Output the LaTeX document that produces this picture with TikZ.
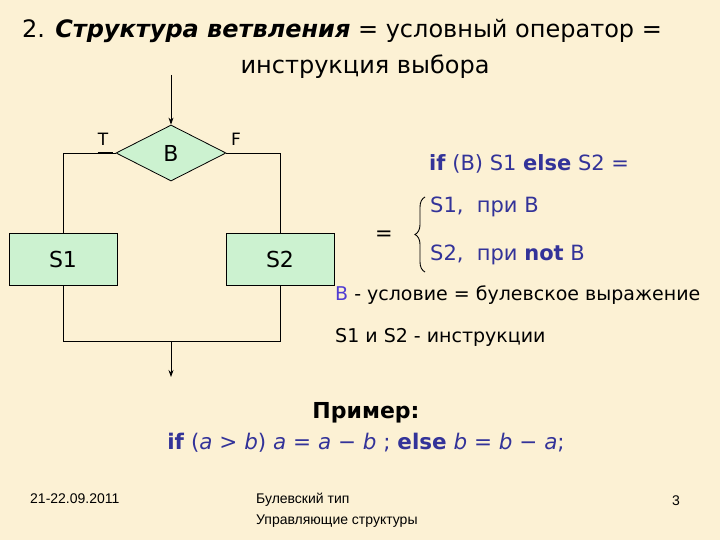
\documentclass[tikz,border=0pt]{standalone}
\usepackage{fontspec}
\setmainfont{DejaVu Sans}
\newfontfamily\footfont{Liberation Sans}
\usetikzlibrary{shapes.geometric,arrows.meta,decorations.pathreplacing}
\definecolor{bg}{RGB}{252,241,212}
\definecolor{boxg}{RGB}{204,242,208}
\definecolor{dblue}{RGB}{51,51,153}
\definecolor{vblue}{RGB}{80,60,210}
\begin{document}
\begin{tikzpicture}[x=1pt,y=-1pt,
  flow/.style={draw,line width=0.8pt},
  arr/.style={flow,-{Stealth[length=7pt,width=5pt]}},
  box/.style={draw,line width=0.8pt,fill=boxg,minimum width=108pt,minimum height=52pt,inner sep=0pt,font=\fontsize{22}{24}\selectfont},
  dec/.style={draw,line width=0.8pt,fill=boxg,diamond,minimum width=110pt,minimum height=56pt,inner sep=0pt,font=\fontsize{22}{24}\selectfont},
  lbl/.style={font=\fontsize{17}{18}\selectfont},
  ttl/.style={font=\fontsize{24}{26}\selectfont},
  body/.style={font=\fontsize{19}{22}\selectfont,anchor=mid west,inner sep=0pt},
  bodyb/.style={font=\fontsize{21}{24}\selectfont,anchor=mid west,inner sep=0pt,text=dblue},
  foot/.style={font=\footfont\fontsize{14}{16}\selectfont,anchor=mid west,inner sep=0pt}]
\fill[bg] (0,0) rectangle (720,540);
\useasboundingbox (0,0) rectangle (720,540);
% title
\node[ttl,anchor=mid west,inner sep=0pt] (t1) at (22,35) {2. \textbf{\textit{Структура ветвления}} = условный оператор =};
\node[ttl,inner sep=0pt] (t2) at (365,67) {инструкция выбора};
% flowchart
\coordinate (in) at (171,75);
\node[dec] (B) at (171,153) {B};
\node[box] (S1) at (63,259) {S1};
\node[box] (S2) at (280,259) {S2};
\node[lbl] (T) at (103,139) {T};
\node[lbl] (F) at (236,139) {F};
\draw[arr] (in) -- (B.north);
\draw[flow] (B.west) -| (S1.north);
\draw[line width=2pt] ([xshift=-18pt]B.west) -- ([xshift=-3pt]B.west);
\draw[flow] (B.east) -| (S2.north);
\coordinate (j) at (171,341);
\coordinate (out) at (171,377);
\draw[flow] (S1.south) -- (S1.south |- j) -- (S2.south |- j) -- (S2.south);
\draw[arr] (j) -- (out);
% right text
\node[bodyb] (if1) at (429,168) {\textbf{if} (B) S1 \textbf{else} S2 =};
\node[bodyb,text=black,anchor=center] (eq) at (384,236) {=};
\coordinate (bt) at (425,197);
\coordinate (bb) at (425,272);
\draw[line width=0.9pt,decorate,decoration={brace,amplitude=10pt}] (bb) -- (bt);
\node[bodyb] (c1) at (430,210) {S1,\ \ при B};
\node[bodyb] (c2) at (430,258) {S2,\ \ при \textbf{not} B};
\node[body] (d1) at (335,298) {\textcolor{vblue}{B} - условие = булевское выражение};
\node[body] (d2) at (335,340) {S1 и S2 - инструкции};
% example
\node[font=\fontsize{22}{24}\selectfont\bfseries,inner sep=0pt] (ex) at (366,413) {Пример:};
\node[font=\fontsize{21.5}{24}\selectfont,text=dblue,inner sep=0pt] (code) at (366,443) {\textbf{if} (\textit{a} > \textit{b}) \textit{a} = \textit{a} − \textit{b} ;\ \textbf{else} \textit{b} = \textit{b} − \textit{a};};
% footer
\node[foot] (date) at (30,501) {21-22.09.2011};
\node[foot] (f1) at (256,501) {Булевский тип};
\node[foot] (f2) at (256,522) {Управляющие структуры};
\node[foot,anchor=center] (pg) at (676,501) {3};
\end{tikzpicture}
\end{document}
